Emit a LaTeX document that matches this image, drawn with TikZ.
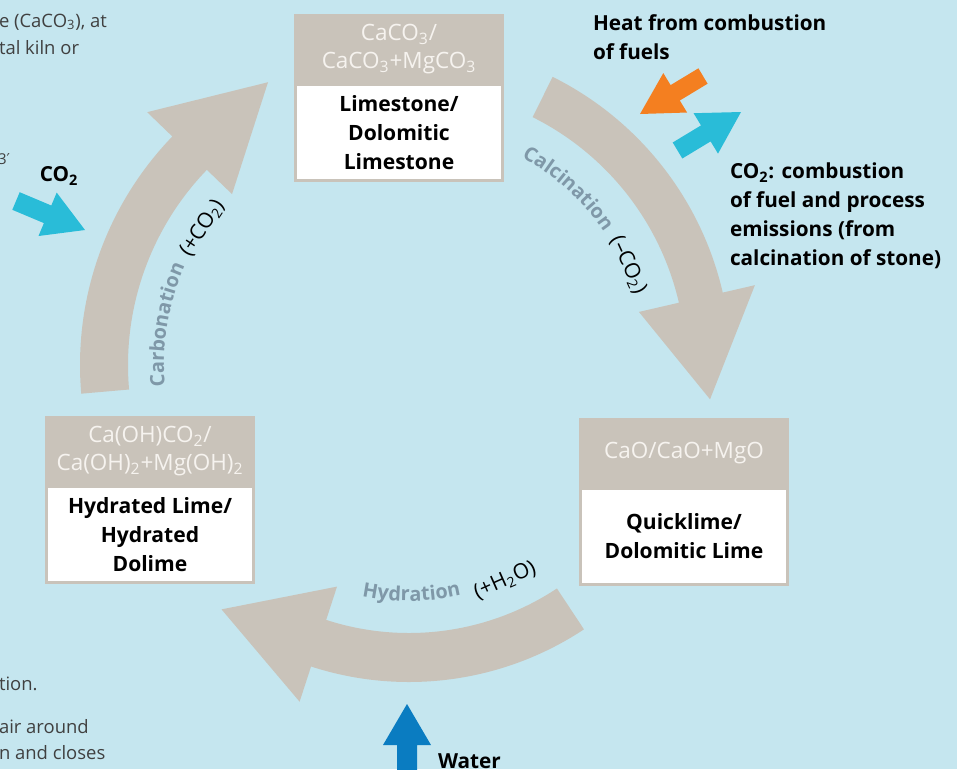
\documentclass[tikz,border=0pt]{standalone}
\usepackage{fontspec}
\setmainfont{Open Sans}
\newfontfamily\symfont{DejaVu Sans}
\usetikzlibrary{positioning,decorations.text}

\definecolor{sky}{HTML}{C5E6EF}
\definecolor{bandgray}{HTML}{C9C3BA}
\definecolor{headwhite}{HTML}{F6F3EF}
\definecolor{labelgray}{HTML}{7F98A8}
\definecolor{notegray}{HTML}{404040}
\definecolor{heatorange}{HTML}{F47F20}
\definecolor{co2cyan}{HTML}{29BCD8}
\definecolor{waterblue}{HTML}{0A7CC1}

\newcommand{\subn}[1]{\textsubscript{#1}}

\begin{document}
\begin{tikzpicture}[%
    x=0.02cm, y=-0.02cm,
    every node/.style={inner sep=0pt, outer sep=0pt},
    formula/.style={rectangle, fill=bandgray, text=headwhite, minimum width=4.2cm,
      minimum height=1.4cm, align=center, font=\fontsize{12.8}{15.8}\selectfont},
    product/.style={rectangle, draw=bandgray, line width=0.06cm, fill=white,
      minimum width=4.14cm, minimum height=1.94cm, align=center,
      font=\bfseries\fontsize{12}{16.4}\selectfont},
    cyclearrow/.style={fill=bandgray},
    stage/.style={decorate, decoration={text along path, text color=labelgray,
      text={|\bfseries\fontsize{11.3}{14}\selectfont|#1}}},
    effect/.style={font=\fontsize{12}{14}\selectfont},
    flow/.style={fill=#1},
    callout/.style={align=left, anchor=north west, font=\bfseries\fontsize{11.8}{16.4}\selectfont},
    note/.style={anchor=base west, text=notegray, font=\fontsize{10.5}{14}\selectfont}
  ]
  \useasboundingbox (0,0) rectangle (957,769);
  \clip (0,0) rectangle (957,769);
  \fill [sky] (0,0) rectangle (957,769);

  % the lime cycle
  \coordinate (cyc) at (409,365);
  \begin{scope}[shift={(cyc)}]
    \fill [cyclearrow] (175:281) arc[start angle=175, end angle=224, radius=281]
      -- (224:246) -- (243.5:316) -- (224:364) -- (224:329)
      arc[start angle=224, end angle=175, radius=329] -- cycle;
    \fill [cyclearrow] (-63.5:277) arc[start angle=-63.5, end angle=-13, radius=277]
      -- (-13:236) -- (6.5:303) -- (-13:355) -- (-13:322)
      arc[start angle=-13, end angle=-63.5, radius=322] -- cycle;
    \fill [cyclearrow] (56.5:268) arc[start angle=56.5, end angle=108, radius=268]
      -- (108:233) -- (127.5:308) -- (108:354) -- (108:317)
      arc[start angle=108, end angle=56.5, radius=317] -- cycle;

    \path [stage=Calcination] (-61.5:236) arc[start angle=-61.5, end angle=-30, radius=236];
    \path [stage=Carbonation] (175:245) arc[start angle=175, end angle=207, radius=245];
    \path [stage=Hydration] (101.5:236) arc[start angle=101.5, end angle=72, radius=236];
    \node [effect, rotate=-65.5] (calc-co2) at (-24.5:241) {(–CO\subn{2})};
    \node [effect, rotate=56.5] (carb-co2) at (213.5:248) {(+CO\subn{2})};
    \node [effect, rotate=24] (hyd-h2o) at (66:236) {(+H\subn{2}O)};
  \end{scope}

  % stages
  \node [formula] (stone-f) at (399,49) {CaCO\subn{3}/\\CaCO\subn{3}+MgCO\subn{3}};
  \node [product] (stone) [below=0pt of stone-f] {Limestone/\\Dolomitic\\Limestone};
  \node [formula] (quick-f) at (684,453) {CaO/CaO+MgO};
  \node [product] (quick) [below=0pt of quick-f] {Quicklime/\\Dolomitic Lime};
  \node [formula] (hydr-f) at (150,451) {Ca(OH)CO\subn{2}/\\Ca(OH)\subn{2}+Mg(OH)\subn{2}};
  \node [product] (hydr) [below=0pt of hydr-f] {Hydrated Lime/\\Hydrated\\Dolime};

  % inputs and outputs
  \fill [flow=co2cyan] (19.7,192.2) -- (51.3,205.5) -- (56.7,192.6) -- (85,230)
    -- (38.5,236) -- (43.9,223.1) -- (12.3,209.8) -- cycle;
  \fill [flow=heatorange] (698.4,68.3) -- (670.6,85.1) -- (663.3,73.1) -- (640,114)
    -- (687.1,112.5) -- (679.8,100.5) -- (707.6,83.7) -- cycle;
  \fill [flow=co2cyan] (672.7,142.5) -- (701.0,125.4) -- (693.6,113.2) -- (741,112)
    -- (718.0,153.6) -- (710.6,141.4) -- (682.3,158.5) -- cycle;
  \fill [flow=waterblue] (397,780) -- (397,745) -- (383,745) -- (407,704)
    -- (431,745) -- (417,745) -- (417,780) -- cycle;

  \node [callout, anchor=center] (co2-in) at (59,176) {CO\subn{2}};
  \node [callout] (heat) at (593,15) {Heat from combustion\\of fuels};
  \node [callout] (co2-out) at (730,163) {CO\subn{2}: combustion\\of fuel and process\\emissions (from\\calcination of stone)};
  \node [callout, anchor=base west] (water) at (438,768) {Water};

  % cut-off text of the page
  \node [note] (txt1) at (-1,27) {e (CaCO\subn{3}), at};
  \node [note] (txt2) at (-1,54) {tal kiln or};
  \node [note, font=\fontsize{8.5}{11}\selectfont] (txt3) at (-2,164) {3{\symfont ′}};
  \node [note] (txt4) at (-1,690) {tion.};
  \node [note] (txt5) at (-1,733) {air around};
  \node [note] (txt6) at (-1,759) {n and closes};
\end{tikzpicture}
\end{document}
